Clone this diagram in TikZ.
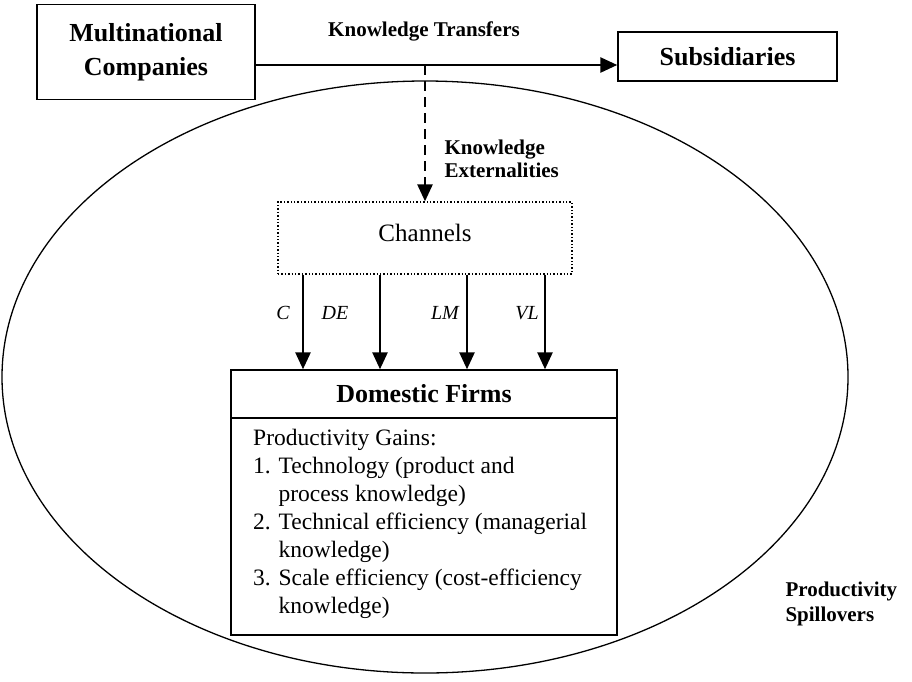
\documentclass[tikz,border=0pt]{standalone}
\usepackage{fontspec}
\setmainfont{Liberation Serif}
\usetikzlibrary{arrows.meta}
\begin{document}
\begin{tikzpicture}[x=1pt,y=-1pt,
  box/.style={draw, line width=1.4pt, inner sep=0pt},
  titlefont/.style={font=\fontsize{26}{34}\selectfont\bfseries},
  smallbold/.style={font=\fontsize{21}{23}\selectfont\bfseries},
  chlabel/.style={font=\fontsize{20}{23}\selectfont\itshape},
  arr/.style={line width=2.6pt, -{Triangle[length=17pt,width=15pt]}},
  dasharr/.style={arr, dash pattern=on 10pt off 6pt},
]
\useasboundingbox (0,0) rectangle (912,681);

% spillover area
\draw[line width=1.3pt] (425,377) ellipse [x radius=423, y radius=296];

% top row: multinationals and their subsidiaries
\node[box, minimum width=218, minimum height=95, titlefont, align=center] (mnc) at (146,52) {Multinational\\Companies};
\node[box, minimum width=219, minimum height=49, titlefont] (sub) at (727.5,56.5) {Subsidiaries};
\coordinate (kt) at (425,65);
\draw[arr] (kt -| mnc.east) -- (kt -| sub.west);
\node[smallbold] (ktlab) at (424,31) {Knowledge Transfers};

% externalities into the channels
\node[box, dotted, line width=1.3pt, minimum width=294, minimum height=72,
      font=\fontsize{25}{30}\selectfont, text depth=10pt] (ch) at (425,238) {Channels};
\draw[dasharr] (kt) -- (ch.north);
\node[smallbold, anchor=west, align=left] (kelab) at (441,159) {Knowledge\\Externalities};

% domestic firms
\node[box, minimum width=386, minimum height=265] (df) at (424,502.5) {};
\coordinate (dv) at (0,418);
\draw[line width=1.4pt] (dv -| df.west) -- (dv -| df.east);
\node[titlefont] (dftitle) at (424,394) {Domestic Firms};
\node[anchor=north west, inner sep=0pt, align=left, font=\fontsize{23.5}{28}\selectfont] (gains) at (253,429)
  {Productivity Gains:\\
   1. Technology (product and\\
   \hphantom{1. }process knowledge)\\
   2. Technical efficiency (managerial\\
   \hphantom{2. }knowledge)\\
   3. Scale efficiency (cost-efficiency\\
   \hphantom{3. }knowledge)};

% the four channels
\foreach \xx/\lab/\lx in {303/C/283, 380/DE/335, 467/LM/445, 545/VL/527}{
  \coordinate (c\lab) at (\xx,0);
  \draw[arr] (c\lab |- ch.south) -- (c\lab |- df.north);
  \node[chlabel] (l\lab) at (\lx,313) {\lab};
}

\node[smallbold, anchor=west, align=left, font=\fontsize{21}{25}\selectfont\bfseries] (spill) at (782,604) {Productivity\\Spillovers};
\end{tikzpicture}
\end{document}
